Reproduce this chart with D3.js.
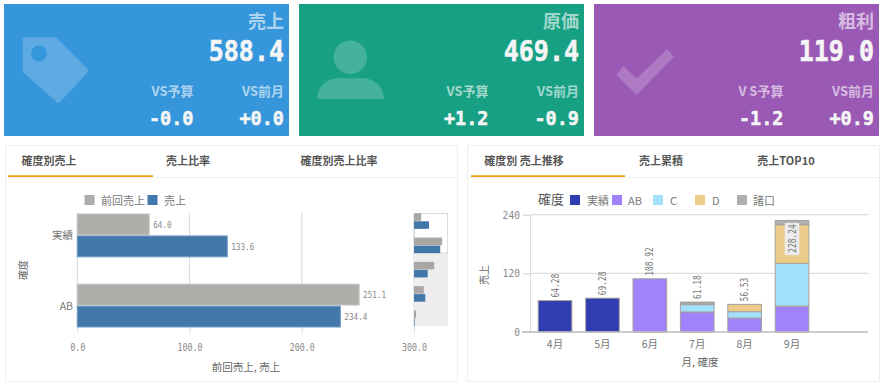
<!DOCTYPE html>
<html><head><meta charset="utf-8">
<script src="https://cdn.jsdelivr.net/npm/d3@7"></script>
<style>
html,body{margin:0;padding:0;background:#fff;overflow:hidden}
svg{display:block}
text{font-family:"Noto Sans CJK JP","Noto Sans",sans-serif}
.mono{font-family:"DejaVu Sans Mono","Noto Sans CJK JP",monospace}
.domain{display:none}
</style></head><body><svg id="c" width="885" height="386"></svg>
<script>
const kpiTitles=["売上","原価","粗利"];
const kpiValues=["588.4","469.4","119.0"];
const kpiVsBudgetLabels=["VS予算","VS予算","V S予算"];
const kpiVsBudget=["-0.0","+1.2","-1.2"];
const kpiVsMonth=["+0.0","-0.9","+0.9"];
const kpiColors=["#3596db","#17a083","#9b59b6"];

const hCategories=["実績","AB","C","D","諸口"];
const hSeries=["前回売上","売上"];
const prevSales=[64.0,251.1,181,87,18];
const curSales=[133.6,234.4,122,101,6];
const hColors=["#b0aeab","#4277aa"];
const hTicks=[0,100,200,300];

const months=["4月","5月","6月","7月","8月","9月",""];
const stackKeys=["実績","AB","C","D","諸口"];
const jisseki=[64.28,69.28,0,0,0,0,0];
const ab=[0,0,108.92,41,28.6,53,0];
const cVals=[0,0,0,15,13,87.5,0];
const dVals=[0,0,0,3,14.93,79,0];
const shokou=[0,0,0,2.18,0,8.74,0];
const totals=[64.28,69.28,108.92,61.18,56.53,228.24,null];
const stackColors=["#2f3db0","#a083fc","#a3e0fb","#eccb8b","#b0afad"];
const vTicks=[0,120,240];

const svg=d3.select("#c");
const W=285;
const cardX=d3.scalePoint().domain([0,1,2]).range([4,594]);
// squeeze monospaced labels to the reference's narrower digit width
function narrow(sel,perChar){
 sel.attr("textLength",function(){return this.textContent.length*perChar;}).attr("lengthAdjust","spacingAndGlyphs");
 return sel;
}

// KPI cards
const icons=[
 g=>{g.append("path").attr("fill-rule","evenodd").attr("d","M24 37.3H55a2 2 0 0 1 1.5.6L87.3 68.7a2.8 2.8 0 0 1 0 4L60.300 101.700a2.800 2.800 0 0 1-4 0L23.400 72.400a2.500 2.500 0 0 1-.7-1.700V38.600a1.300 1.300 0 0 1 1.300-1.300ZM47 53.300a8 8 0 1 0-16 0a8 8 0 1 0 16 0Z");},
 g=>{g.append("circle").attr("cx",350.300).attr("cy",57.300).attr("r",16.700);
     g.append("path").attr("d","M317.300 99C317.300 86 327 78.300 339 78.300H362C374 78.300 383.700 86 383.700 99Z");},
 g=>{g.append("path").attr("d","M616.700 75L623.300 66L636.700 78.300L667.300 49.300L674 56.700L636.700 94.700Z");}
];
function bigNum(g,x,y,size,sy,t){
 g.append("text").attr("class","mono").attr("transform",`translate(${x},${y}) scale(1,${sy})`)
  .attr("text-anchor","end").attr("font-size",size).attr("font-weight",700)
  .attr("fill","#f5f5f5").attr("stroke","#f5f5f5").attr("stroke-width",.5).text(t);
}
kpiTitles.forEach((t,i)=>{
 const x=cardX(i),r=x+280,g=svg.append("g");
 g.append("rect").attr("x",x).attr("y",4).attr("width",W).attr("height",132).attr("fill",kpiColors[i]);
 const ic=g.append("g").attr("fill","#fff").attr("fill-opacity",.2);icons[i](ic);
 g.append("text").attr("x",r).attr("y",27.500).attr("text-anchor","end").attr("font-size",18).attr("font-weight",700).attr("fill","#fff").attr("fill-opacity",.6).text(t);
 bigNum(g,r,60.500,25,1.100,kpiValues[i]);
 g.append("text").attr("x",x+189.500).attr("y",96).attr("text-anchor","end").attr("font-size",13).attr("font-weight",700).attr("fill","#fff").attr("fill-opacity",.6).text(kpiVsBudgetLabels[i]);
 g.append("text").attr("x",r).attr("y",96).attr("text-anchor","end").attr("font-size",13).attr("font-weight",700).attr("fill","#fff").attr("fill-opacity",.6).text("VS前月");
 bigNum(g,x+189.500,125,18.500,1.080,kpiVsBudget[i]);
 bigNum(g,r,125,18.500,1.080,kpiVsMonth[i]);
});

// Panels
function panel(x,w,tabs,ux,uw){
 svg.append("rect").attr("x",x+.5).attr("y",145.500).attr("width",w).attr("height",236).attr("fill","#fff").attr("stroke","#eeeeee");
 svg.append("line").attr("x1",x+1).attr("x2",x+w).attr("y1",177.500).attr("y2",177.500).attr("stroke","#efefef");
 svg.append("rect").attr("x",ux).attr("y",175.300).attr("width",uw).attr("height",1.700).attr("fill","#f39c12");
 tabs.forEach(t=>svg.append("text").attr("x",t[1]).attr("y",164.800).attr("text-anchor","middle").attr("font-size",11).attr("font-weight",700).attr("fill","#555").text(t[0]));
}
panel(5,452,[["確度別売上",49],["売上比率",188],["確度別売上比率",339]],8,145);
panel(467,412,[["確度別 売上推移",524],["売上累積",661],["売上TOP10",786]],471,154);

function legend(items,xs,txs,colors,y){
 items.forEach((t,i)=>{
  svg.append("rect").attr("x",xs[i]).attr("y",y).attr("width",10).attr("height",10).attr("fill",colors[i]);
  svg.append("text").attr("x",txs[i]).attr("y",y+9.500).attr("font-size",11).attr("fill","#777").text(t);
 });
}
legend(hSeries,[84.500,147.500],[101,164],hColors,195);
svg.append("text").attr("x",538).attr("y",203.500).attr("font-size",13).attr("fill","#555").text("確度");
legend(stackKeys,[570,612,653,695,737],[587,628,670,712,753],stackColors,195);

// Horizontal bar chart
const hx=d3.scaleLinear().domain([0,300]).range([77.300,414]);
const hyAll=d3.scaleBand().domain(hCategories.slice(0,2)).range([214,327]).paddingInner(.39);
const hSub=d3.scaleBand().domain(hSeries).range([0,hyAll.bandwidth()]).paddingInner(.05);
const hAxisG=svg.append("g").attr("transform","translate(0,327)")
 .call(d3.axisBottom(hx).tickValues(hTicks).tickFormat(d3.format(".1f")).tickSize(6).tickPadding(11));
hAxisG.selectAll("line").attr("stroke","#ddd");
narrow(hAxisG.selectAll("text").attr("class","mono").attr("font-size",10).attr("fill","#888"),5);
svg.append("g").selectAll("line").data(hTicks).join("line")
 .attr("x1",d=>hx(d)).attr("x2",d=>hx(d)).attr("y1",213).attr("y2",327).attr("stroke","#dddddd").attr("stroke-width",1.200);

const hData=[prevSales,curSales];
hSeries.forEach((s,k)=>{
 const cats=hCategories.slice(0,2);
 svg.append("g").selectAll("rect").data(cats).join("rect")
  .attr("x",hx(0)).attr("y",(d)=>hyAll(d)+hSub(s))
  .attr("width",(d,i)=>hx(hData[k][i])-hx(0)).attr("height",hSub.bandwidth())
  .attr("fill",hColors[k]).attr("stroke",k?"#6f9ac4":"#c4c2bf").attr("stroke-width",1);
 narrow(svg.append("g").selectAll("text").data(cats).join("text").attr("class","mono")
  .attr("x",(d,i)=>hx(hData[k][i])+4).attr("y",d=>hyAll(d)+hSub(s)+hSub.bandwidth()/2+3.500)
  .attr("font-size",9.500).attr("fill","#888").text((d,i)=>hData[k][i].toFixed(1)),4.600);
});
svg.append("g").selectAll("text").data(hCategories.slice(0,2)).join("text")
 .attr("x",73).attr("y",d=>hyAll(d)+hyAll.bandwidth()/2+4).attr("text-anchor","end").attr("font-size",10.500).attr("fill","#777").text(d=>d);
svg.append("text").attr("transform","translate(27,270) rotate(-90)").attr("text-anchor","middle").attr("font-size",10).attr("fill","#666").text("確度");
svg.append("text").attr("x",246).attr("y",371).attr("text-anchor","middle").attr("font-size",10.500).attr("fill","#666").text("前回売上, 売上");

// Mini overview
const mx=d3.scaleLinear().domain([0,300]).range([414,447.600]);
const my=d3.scaleBand().domain(hCategories).range([213.300,326]).paddingInner(.36);
const mSub=d3.scaleBand().domain(hSeries).range([0,my.bandwidth()]).paddingInner(.05);
svg.append("rect").attr("x",414).attr("y",213).attr("width",34).attr("height",113).attr("fill","#eeeeee");
svg.append("rect").attr("x",414.500).attr("y",213.500).attr("width",33).attr("height",39.500).attr("fill","#fff").attr("stroke","#dcdcdc");
hSeries.forEach((s,k)=>{
 svg.append("g").selectAll("rect").data(hCategories).join("rect")
  .attr("x",mx(0)).attr("y",d=>my(d)+mSub(s))
  .attr("width",(d,i)=>mx(hData[k][i])-mx(0)).attr("height",mSub.bandwidth())
  .attr("fill",k?"#4277aa":"#a9a7a4");
});

// Stacked column chart
const vy=d3.scaleLinear().domain([0,240]).range([332,214.700]);
const vx=d3.scaleBand().domain(months).range([531,868]).paddingInner(.29).paddingOuter(.2).align(.38);
const yA=svg.append("g").attr("transform","translate(531,0)")
 .call(d3.axisLeft(vy).tickValues(vTicks).tickSize(8).tickPadding(3));
yA.selectAll("line").attr("stroke","#ccc");
narrow(yA.selectAll("text").attr("class","mono").attr("font-size",11).attr("fill","#888"),5.800);
svg.append("g").selectAll("line").data(vTicks.slice(1)).join("line")
 .attr("x1",531).attr("x2",868).attr("y1",d=>vy(d)).attr("y2",d=>vy(d)).attr("stroke","#dddddd").attr("stroke-width",1.200);
svg.append("line").attr("x1",530.500).attr("x2",530.500).attr("y1",214.700).attr("y2",332).attr("stroke","#dddddd");
const rows=months.map((m,i)=>({m,"実績":jisseki[i],"AB":ab[i],"C":cVals[i],"D":dVals[i],"諸口":shokou[i]}));
const stacked=d3.stack().keys(stackKeys)(rows);
stacked.forEach((layer,k)=>{
 svg.append("g").selectAll("rect").data(layer.filter(d=>d[1]>d[0])).join("rect")
  .attr("x",d=>vx(d.data.m)).attr("width",vx.bandwidth())
  .attr("y",d=>vy(d[1])).attr("height",d=>vy(d[0])-vy(d[1]))
  .attr("fill",stackColors[k]).attr("stroke","#a5a29d").attr("stroke-width",1);
});
svg.append("line").attr("x1",522).attr("x2",868).attr("y1",332).attr("y2",332).attr("stroke","#bdbdbd").attr("stroke-width",1.500);
const xA=svg.append("g").attr("transform","translate(0,332)")
 .call(d3.axisBottom(vx).tickSize(0).tickPadding(9));
xA.selectAll("text").attr("font-size",10.500).attr("fill","#777");
const labelled=months.map((m,i)=>({m,t:totals[i]})).filter(d=>d.t!==null);
const lab=svg.append("g").selectAll("g").data(labelled).join("g")
 .attr("transform",d=>{
   const inside=d.t>200;
   const yy=inside?vy(d.t)+2.400:vy(d.t)-3;
   return `translate(${vx(d.m)+vx.bandwidth()/2},${yy}) rotate(-90)`;
 });
lab.filter(d=>d.t>200).append("rect").attr("x",-32.300).attr("y",-7.300).attr("width",32.300).attr("height",14.600).attr("fill","#ececec");
narrow(lab.append("text").attr("class","mono").attr("x",d=>d.t>200?-1.500:0).attr("y",3.500)
 .attr("text-anchor",d=>d.t>200?"end":"start").attr("font-size",10).attr("fill","#777").text(d=>d.t.toFixed(2)),4.750);
svg.append("text").attr("transform","translate(488,275) rotate(-90)").attr("text-anchor","middle").attr("font-size",10).attr("fill","#666").text("売上");
svg.append("text").attr("x",700).attr("y",366).attr("text-anchor","middle").attr("font-size",10.500).attr("fill","#666").text("月, 確度");
</script></body></html>
